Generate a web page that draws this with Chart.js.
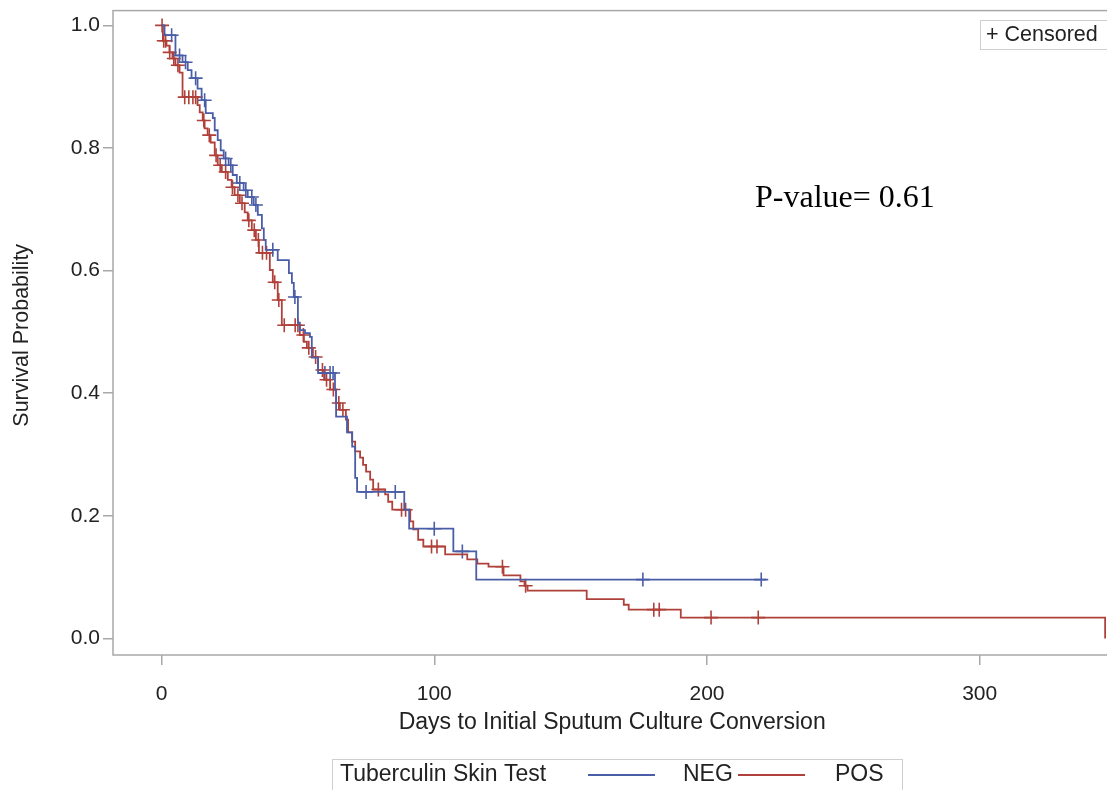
<!DOCTYPE html>
<html>
<head>
<meta charset="utf-8">
<script src="https://cdn.jsdelivr.net/npm/chart.js@4.4.1/dist/chart.umd.min.js"></script>
<style>
  html, body { margin: 0; padding: 0; background: #fff; overflow: hidden; }
  #wrap { width: 1107px; height: 790px; position: relative; overflow: hidden; }
</style>
</head>
<body>
<div id="wrap"><canvas id="km" width="1120" height="790"></canvas></div>
<script>
// Kaplan-Meier estimates: event day and survival after it
var negDays = [0, 1.1, 5.1, 7.7, 9.6, 11.0, 13.2, 14.7, 16.2, 18.8, 19.5, 20.6, 21.7, 22.8, 24.6,
  26.1, 27.6, 30.1, 31.6, 33.8, 35.3, 36.8, 37.5, 38.2, 42.6, 46.7, 47.8, 48.5, 50.0, 50.7,
  52.6, 54.4, 55.1, 57.4, 63.6, 64.0, 68.0, 69.9, 71.0, 71.7, 89.0, 90.8, 107.0, 115.4, 221.7];
var negSurv = [1, 0.984, 0.951, 0.940, 0.927, 0.914, 0.897, 0.878, 0.857, 0.849, 0.829, 0.813, 0.796, 0.783, 0.772,
  0.756, 0.743, 0.731, 0.720, 0.707, 0.691, 0.669, 0.650, 0.634, 0.617, 0.596, 0.580, 0.557, 0.515, 0.503,
  0.498, 0.492, 0.458, 0.433, 0.406, 0.362, 0.336, 0.313, 0.262, 0.239, 0.210, 0.179, 0.142, 0.096, 0.096];
var negCensored = [3.7, 6.6, 8.8, 12.5, 15.8, 23.5, 25.4, 28.7, 30.9, 33.1, 34.6, 40.8, 48.9,
  59.9, 61.8, 62.9, 75, 85.7, 100, 110.3, 176.5, 219.9];

var posDays = [0, 0.5, 1.8, 2.9, 4.0, 5.1, 6.6, 7.7, 13.2, 14.0, 15.1, 15.8, 16.9, 18.0, 19.5,
  20.6, 22.1, 24.3, 25.7, 26.8, 28.7, 30.5, 31.6, 33.1, 34.6, 35.7, 39.7, 40.8, 42.6, 44.1,
  50.7, 52.2, 53.3, 55.5, 57.4, 59.6, 61.8, 64.0, 65.4, 67.6, 68.4, 69.9, 71.0, 72.8, 73.9,
  75.0, 76.5, 77.6, 82.0, 83.1, 84.6, 91.2, 92.3, 94.1, 96.0, 104.0, 112.1, 115.8, 119.9,
  125.4, 131.6, 133.1, 134.2, 155.9, 169.5, 171.3, 190.4, 346];
var posSurv = [1, 0.975, 0.967, 0.956, 0.946, 0.935, 0.923, 0.883, 0.870, 0.858, 0.845, 0.832, 0.821, 0.809, 0.788,
  0.772, 0.761, 0.748, 0.736, 0.723, 0.710, 0.695, 0.682, 0.666, 0.650, 0.629, 0.601, 0.581, 0.552, 0.511,
  0.495, 0.484, 0.474, 0.459, 0.438, 0.422, 0.406, 0.384, 0.373, 0.357, 0.336, 0.321, 0.305, 0.295, 0.283,
  0.272, 0.259, 0.243, 0.235, 0.223, 0.210, 0.191, 0.178, 0.161, 0.150, 0.137, 0.129, 0.122, 0.117,
  0.103, 0.093, 0.086, 0.078, 0.064, 0.055, 0.047, 0.034, 0];
var posCensored = [0.2, 0.8, 1.5, 3.0, 4.5, 6.0, 8.5, 10.0, 11.5, 12.5, 15.5, 17.5, 20.0, 21.5, 23.5,
  26.0, 28.0, 29.5, 32.0, 34.0, 35.5, 37.0, 38.5, 41.5, 43.0, 45.0, 49.0, 50.0, 52.0, 54.0,
  56.5, 59.0, 60.5, 63.0, 65.0, 66.5, 79.5, 88.0, 89.5, 99.0, 101.0, 125.0, 133.5,
  180.5, 182.5, 201.5, 218.8];

var xTicks = [0, 100, 200, 300];
var yTicks = [0, 0.2, 0.4, 0.6, 0.8, 1.0];

var blue = '#4a5ea8';
var red = '#b0413a';

function curvePoints(days, surv) {
    return days.map(function (d, i) { return { x: d, y: surv[i] }; });
}

// survival value of the step curve at day t
function survAt(days, surv, t) {
    var s = 1;
    for (var i = 0; i < days.length; i++) {
        if (days[i] <= t) s = surv[i];
    }
    return s;
}

function censorPoints(times, days, surv) {
    return times.map(function (t) { return { x: t, y: survAt(days, surv, t) }; });
}

var extras = {
    id: 'extras',
    beforeDatasetsDraw: function (chart) {
        var ctx = chart.ctx, a = chart.chartArea;
        ctx.save();
        ctx.strokeStyle = '#a8a8a8';
        ctx.lineWidth = 1.5;
        // frame reaches a little higher than the scale area, as in the original
        ctx.strokeRect(a.left, a.top - 5, a.right - a.left + 10, a.bottom - a.top + 5);
        ctx.restore();
    },
    afterDraw: function (chart) {
        var ctx = chart.ctx;
        ctx.save();
        // P-value text
        ctx.fillStyle = '#000';
        ctx.font = '32px "Liberation Serif"';
        ctx.textBaseline = 'middle';
        ctx.textAlign = 'left';
        ctx.fillText('P-value= 0.61', 755, 199);

        // censored key
        ctx.strokeStyle = '#cfcfcf';
        ctx.lineWidth = 1;
        ctx.strokeRect(980.5, 20.5, 150, 29);
        ctx.fillStyle = '#222';
        ctx.font = '21.5px "Liberation Sans"';
        ctx.fillText('+ Censored', 986, 35);

        // group legend
        ctx.font = '23px "Liberation Sans"';
        ctx.strokeRect(332.5, 759.5, 570, 40);
        ctx.fillText('Tuberculin Skin Test', 340, 775);
        ctx.lineWidth = 1.8;
        ctx.strokeStyle = blue;
        ctx.beginPath(); ctx.moveTo(588, 775); ctx.lineTo(655, 775); ctx.stroke();
        ctx.fillText('NEG', 683, 775);
        ctx.strokeStyle = red;
        ctx.beginPath(); ctx.moveTo(738, 775); ctx.lineTo(805, 775); ctx.stroke();
        ctx.fillText('POS', 835, 775);
        ctx.restore();
    }
};

var ctx = document.getElementById('km').getContext('2d');
new Chart(ctx, {
    type: 'line',
    data: {
        datasets: [{
            label: 'NEG',
            data: curvePoints(negDays, negSurv),
            borderColor: blue,
            borderWidth: 1.8,
            stepped: 'before',
            pointRadius: 0,
            fill: false
        }, {
            label: 'POS',
            data: curvePoints(posDays, posSurv),
            borderColor: red,
            borderWidth: 1.8,
            stepped: 'before',
            pointRadius: 0,
            fill: false
        }, {
            label: 'NEG censored',
            data: censorPoints(negCensored, negDays, negSurv),
            showLine: false,
            pointStyle: 'cross',
            pointRadius: 7,
            pointBorderWidth: 1.6,
            pointBorderColor: blue
        }, {
            label: 'POS censored',
            data: censorPoints(posCensored, posDays, posSurv),
            showLine: false,
            pointStyle: 'cross',
            pointRadius: 7,
            pointBorderWidth: 1.6,
            pointBorderColor: red
        }]
    },
    options: {
        responsive: false,
        animation: false,
        layout: { padding: { top: 5, right: 0, bottom: 0, left: 0 } },
        plugins: {
            legend: { display: false },
            tooltip: { enabled: false }
        },
        scales: {
            x: {
                type: 'linear',
                min: -17.8,
                max: 348.3,
                afterBuildTicks: function (scale) {
                    scale.ticks = xTicks.map(function (v) { return { value: v }; });
                },
                afterFit: function (scale) { scale.height = 135; },
                grid: { drawOnChartArea: false, tickLength: 10, color: '#a8a8a8', lineWidth: 1.5 },
                border: { display: false },
                ticks: { color: '#222', padding: 17, font: { family: 'Liberation Sans', size: 21 } },
                title: {
                    display: true,
                    text: 'Days to Initial Sputum Culture Conversion',
                    color: '#222',
                    font: { family: 'Liberation Sans', size: 23 },
                    padding: { top: 0, bottom: 54 }
                }
            },
            y: {
                min: -0.027,
                max: 1.016,
                afterBuildTicks: function (scale) {
                    scale.ticks = yTicks.map(function (v) { return { value: v }; });
                },
                afterFit: function (scale) { scale.width = 113; },
                grid: { drawOnChartArea: false, tickLength: 10, color: '#a8a8a8', lineWidth: 1.5 },
                border: { display: false },
                ticks: {
                    color: '#222',
                    padding: 3,
                    font: { family: 'Liberation Sans', size: 21 },
                    callback: function (v) { return v.toFixed(1); }
                },
                title: {
                    display: true,
                    text: 'Survival Probability',
                    color: '#222',
                    font: { family: 'Liberation Sans', size: 21.5 },
                    padding: { top: 9, bottom: 0 }
                }
            }
        }
    },
    plugins: [extras]
});
</script>
</body>
</html>
